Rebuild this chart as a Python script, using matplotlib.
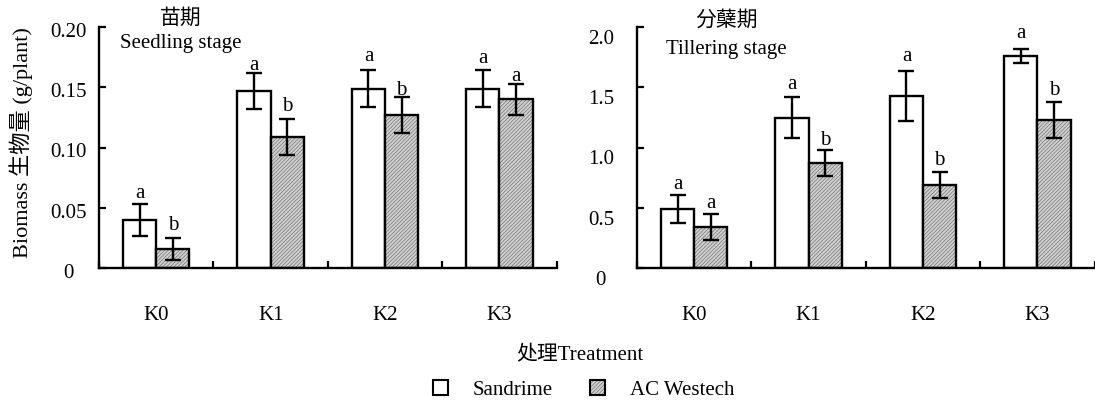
import matplotlib
matplotlib.use('Agg')
import matplotlib.pyplot as plt
import matplotlib.transforms as mtransforms
from matplotlib.patches import Patch
import numpy as np

plt.rcParams['font.family'] = ['Liberation Serif', 'Noto Sans CJK SC']
plt.rcParams['hatch.linewidth'] = 0.5

# ---- data ----
groups = ['K0', 'K1', 'K2', 'K3']
series = ['Sandrime', 'AC Westech']

seed_sand = [0.040, 0.147, 0.149, 0.149]
seed_sand_err = [0.013, 0.015, 0.0155, 0.0155]
seed_acw = [0.016, 0.109, 0.127, 0.140]
seed_acw_err = [0.009, 0.015, 0.015, 0.013]
seed_sand_letters = ['a', 'a', 'a', 'a']
seed_acw_letters = ['b', 'b', 'b', 'a']
seed_sand_lpos = [0.062, 0.168, 0.176, 0.174]
seed_acw_lpos = [0.035, 0.134, 0.147, 0.159]

till_sand = [0.49, 1.25, 1.43, 1.76]
till_sand_err = [0.115, 0.17, 0.21, 0.055]
till_acw = [0.345, 0.87, 0.69, 1.23]
till_acw_err = [0.108, 0.107, 0.108, 0.146]
till_sand_letters = ['a', 'a', 'a', 'a']
till_acw_letters = ['a', 'b', 'b', 'b']
till_sand_lpos = [0.69, 1.52, 1.76, 1.95]
till_acw_lpos = [0.54, 1.06, 0.89, 1.47]

seed_yticks = [0, 0.05, 0.10, 0.15, 0.20]
seed_ylabels = ['0', '0.05', '0.10', '0.15', '0.20']
till_yticks = [0, 0.5, 1.0, 1.5, 2.0]
till_ylabels = ['0', '0.5', '1.0', '1.5', '2.0']

FS = 15
W = 0.29
GRAY = '#d2d2d2'
HATCH_COL = '#707070'
HATCH = '/////////'


def panel(ax, sand, sand_err, acw, acw_err, l_sand, l_acw, lp_sand, lp_acw,
          yticks, ylabels, ymax, label_pad, label_drop):
    x = np.arange(len(groups))
    ax.bar(x - W / 2, sand, W, color='white', edgecolor='black', lw=1.7, zorder=2)
    ax.bar(x + W / 2, acw, W, color=GRAY, edgecolor=HATCH_COL, hatch=HATCH,
           lw=0, zorder=2)
    ax.bar(x + W / 2, acw, W, fill=False, edgecolor='black', lw=1.7, zorder=3)
    ax.errorbar(x - W / 2, sand, yerr=sand_err, fmt='none', ecolor='black',
                elinewidth=1.7, capsize=5.5, capthick=1.7, zorder=4)
    ax.errorbar(x + W / 2, acw, yerr=acw_err, fmt='none', ecolor='black',
                elinewidth=1.7, capsize=5.5, capthick=1.7, zorder=4)
    for xi, t, y in zip(x - W / 2, l_sand, lp_sand):
        ax.text(xi, y, t, ha='center', va='center', fontsize=FS)
    for xi, t, y in zip(x + W / 2, l_acw, lp_acw):
        ax.text(xi, y, t, ha='center', va='center', fontsize=FS)

    ax.set_xlim(-0.5, len(groups) - 0.5)
    ax.set_ylim(0, ymax)
    ax.set_xticks(x)
    ax.set_xticklabels(groups, fontsize=FS)
    ax.set_xticks(np.arange(len(groups) + 1) - 0.5, minor=True)
    ax.tick_params(axis='x', which='major', length=0, pad=27)
    ax.tick_params(axis='x', which='minor', direction='in', length=5, width=1.6)
    ax.set_yticks(yticks)
    ax.set_yticklabels(ylabels, fontsize=FS)
    ax.tick_params(axis='y', direction='in', length=5, width=1.6, pad=label_pad)
    off = mtransforms.ScaledTranslation(0, -label_drop / 72, ax.figure.dpi_scale_trans)
    for lab in ax.get_yticklabels():
        lab.set_horizontalalignment('center')
        lab.set_transform(lab.get_transform() + off)
    for s in ['top', 'right']:
        ax.spines[s].set_visible(False)
    for s in ['left', 'bottom']:
        ax.spines[s].set_linewidth(1.7)


fig = plt.figure(figsize=(10.95, 4.05), dpi=100)
ax1 = fig.add_axes([0.0904, 0.338, 0.418, 0.595])
ax2 = fig.add_axes([0.5817, 0.338, 0.418, 0.595])

panel(ax1, seed_sand, seed_sand_err, seed_acw, seed_acw_err,
      seed_sand_letters, seed_acw_letters, seed_sand_lpos, seed_acw_lpos,
      seed_yticks, seed_ylabels, 0.20, 22, 2)
panel(ax2, till_sand, till_sand_err, till_acw, till_acw_err,
      till_sand_letters, till_acw_letters, till_sand_lpos, till_acw_lpos,
      till_yticks, till_ylabels, 2.0, 26, 7)

ax1.text(0.178, 1.035, '苗期', transform=ax1.transAxes, ha='center', va='center', fontsize=FS)
ax1.text(0.178, 0.932, 'Seedling stage', transform=ax1.transAxes, ha='center', va='center', fontsize=FS)
ax2.text(0.195, 1.025, '分蘖期', transform=ax2.transAxes, ha='center', va='center', fontsize=FS)
ax2.text(0.195, 0.909, 'Tillering stage', transform=ax2.transAxes, ha='center', va='center', fontsize=FS)

ax1.set_ylabel('Biomass 生物量 (g/plant)', fontsize=16)
ax1.yaxis.set_label_coords(-0.145, 0.523)

fig.text(0.53, 0.121, '处理Treatment', ha='center', va='center', fontsize=FS)
h_sand = Patch(facecolor='white', edgecolor='black', lw=1.5)
h_acw = (Patch(facecolor=GRAY, edgecolor=HATCH_COL, hatch=HATCH, lw=0),
         Patch(fill=False, edgecolor='black', lw=1.5))
fig.legend([h_sand, h_acw], series, loc='center', bbox_to_anchor=(0.533, 0.037),
           ncol=2, frameon=False, fontsize=FS, handlelength=0.7, handleheight=0.7,
           handletextpad=1.2, columnspacing=1.8)

fig.savefig('out.png', dpi=100)
